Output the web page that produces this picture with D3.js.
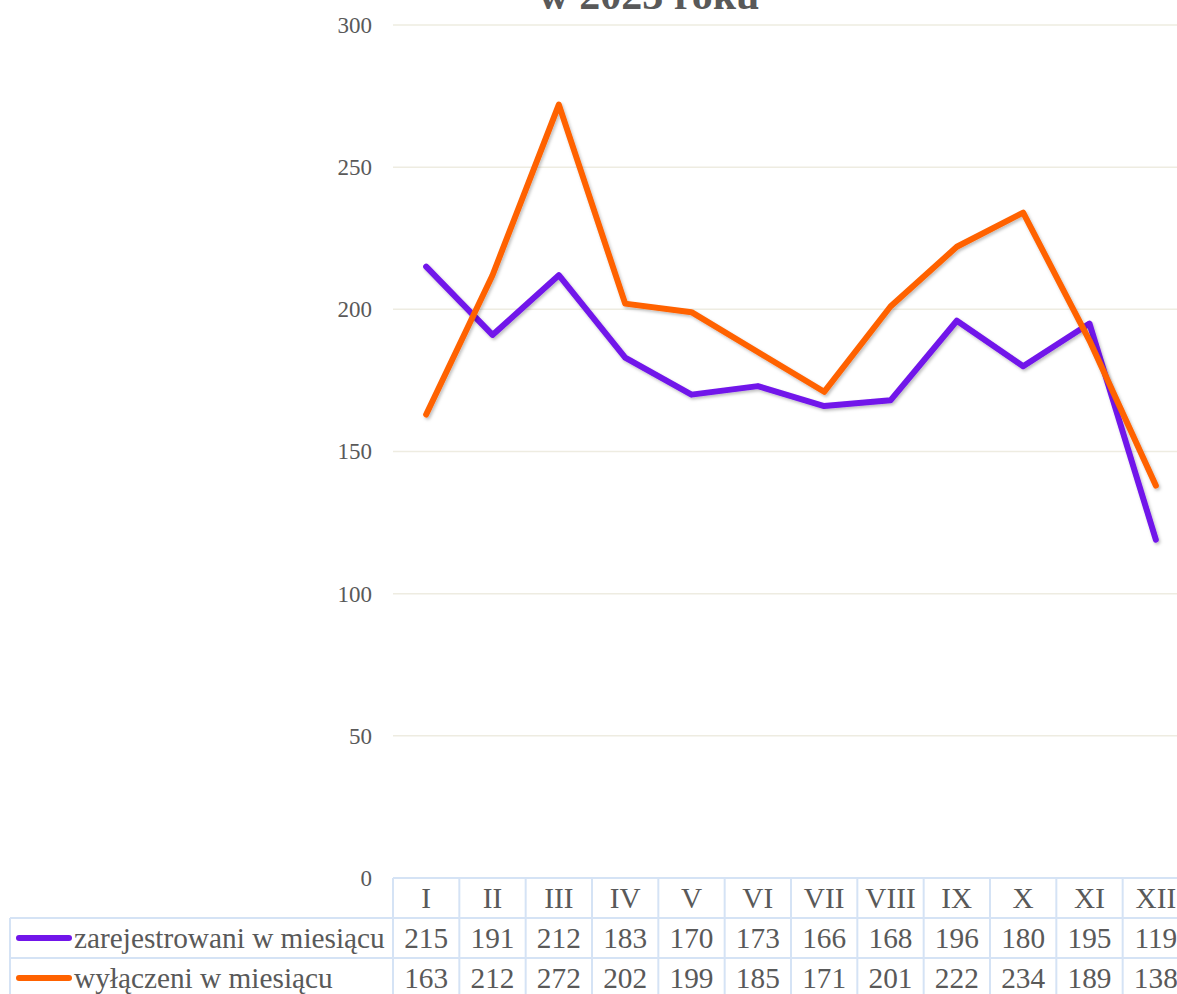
<!DOCTYPE html>
<html>
<head>
<meta charset="utf-8">
<script src="https://cdn.jsdelivr.net/npm/d3@7"></script>
<style>
  html, body { margin: 0; padding: 0; background: #ffffff; overflow: hidden; }
  svg { display: block; font-family: "Liberation Serif", "Times New Roman", serif; }
</style>
</head>
<body>
<svg id="chart" width="1177" height="994"></svg>
<script>
const months = ["I","II","III","IV","V","VI","VII","VIII","IX","X","XI","XII"];
const registered = [215,191,212,183,170,173,166,168,196,180,195,119];
const removed = [163,212,272,202,199,185,171,201,222,234,189,138];
const seriesNames = ["zarejestrowani w miesiącu", "wyłączeni w miesiącu"];
const seriesColors = ["#7115EA", "#FF6200"];
const yTicks = [0,50,100,150,200,250,300];
const titleText = "w 2023 roku";

const svg = d3.select("#chart");
const plotLeft = 393, plotRight = 1189, plotTop = 25, plotBottom = 878;
const rowH = 40;
const tableLeft = 10;
const textColor = "#595959";
const borderColor = "#D5E3F5";

const x = d3.scaleBand().domain(months).range([plotLeft, plotRight]).padding(0);
const y = d3.scaleLinear().domain([0, 300]).range([plotBottom, plotTop]);

const defs = svg.append("defs");
const f = defs.append("filter").attr("id", "shadow").attr("x", "-10%").attr("y", "-10%").attr("width", "120%").attr("height", "120%");
f.append("feDropShadow").attr("dx", 1.5).attr("dy", 2).attr("stdDeviation", 1.5).attr("flood-color", "#000").attr("flood-opacity", 0.25);

svg.append("g").selectAll("line").data(yTicks.filter(d => d > 0)).join("line")
  .attr("x1", plotLeft).attr("x2", 1177)
  .attr("y1", d => y(d)).attr("y2", d => y(d))
  .attr("stroke", "#EEECE1").attr("stroke-width", 1.5);

const yAxis = d3.axisLeft(y).tickValues(yTicks).tickSize(0).tickPadding(0);
const yg = svg.append("g").attr("transform", `translate(372,0)`).call(yAxis);
yg.select(".domain").remove();
yg.selectAll("text").attr("fill", textColor).attr("font-size", 23)
  .attr("font-family", "'Liberation Serif', 'Times New Roman', serif");

// title (its first line lies above the visible area, as in the reference)
svg.append("text").attr("x", 649).attr("y", 9).attr("text-anchor", "middle")
  .attr("font-size", 42).attr("font-weight", "bold").attr("fill", textColor)
  .text(titleText);

const series = [registered, removed];
const line = d3.line().x((d, i) => x(months[i]) + x.bandwidth() / 2).y(d => y(d));
series.forEach((s, k) => {
  svg.append("path").datum(s)
    .attr("d", line).attr("fill", "none")
    .attr("stroke", seriesColors[k]).attr("stroke-width", 6)
    .attr("stroke-linejoin", "round").attr("stroke-linecap", "round")
    .attr("filter", "url(#shadow)");
});

const tg = svg.append("g");
const rowTops = [plotBottom, plotBottom + rowH, plotBottom + 2 * rowH, plotBottom + 3 * rowH];
tg.append("line").attr("x1", plotLeft).attr("x2", plotRight).attr("y1", rowTops[0]).attr("y2", rowTops[0])
  .attr("stroke", borderColor).attr("stroke-width", 2);
[rowTops[1], rowTops[2], rowTops[3]].forEach(yy => {
  tg.append("line").attr("x1", tableLeft).attr("x2", plotRight).attr("y1", yy).attr("y2", yy)
    .attr("stroke", borderColor).attr("stroke-width", 2);
});
months.forEach(m => {
  tg.append("line").attr("x1", x(m)).attr("x2", x(m)).attr("y1", rowTops[0]).attr("y2", rowTops[3])
    .attr("stroke", borderColor).attr("stroke-width", 2);
});
tg.append("line").attr("x1", plotRight).attr("x2", plotRight).attr("y1", rowTops[0]).attr("y2", rowTops[3])
  .attr("stroke", borderColor).attr("stroke-width", 2);
tg.append("line").attr("x1", tableLeft).attr("x2", tableLeft).attr("y1", rowTops[1]).attr("y2", rowTops[3])
  .attr("stroke", borderColor).attr("stroke-width", 2);

const fs = 29.3;
tg.selectAll("text.hdr").data(months).join("text").attr("class", "hdr")
  .attr("x", d => x(d) + x.bandwidth() / 2).attr("y", rowTops[0] + rowH / 2)
  .attr("dy", "0.35em").attr("text-anchor", "middle")
  .attr("font-size", fs).attr("fill", textColor).text(d => d);

series.forEach((s, k) => {
  const cy = rowTops[k + 1] + rowH / 2;
  tg.selectAll("text.v" + k).data(s).join("text").attr("class", "v" + k)
    .attr("x", (d, i) => x(months[i]) + x.bandwidth() / 2).attr("y", cy)
    .attr("dy", "0.35em").attr("text-anchor", "middle")
    .attr("font-size", fs).attr("fill", textColor).text(d => d);
  tg.append("line").attr("x1", 19).attr("x2", 69).attr("y1", cy).attr("y2", cy)
    .attr("stroke", seriesColors[k]).attr("stroke-width", 6).attr("stroke-linecap", "round");
  tg.append("text").attr("x", 74).attr("y", cy).attr("dy", "0.35em")
    .attr("font-size", fs).attr("fill", textColor).text(seriesNames[k]);
});
</script>
</body>
</html>
